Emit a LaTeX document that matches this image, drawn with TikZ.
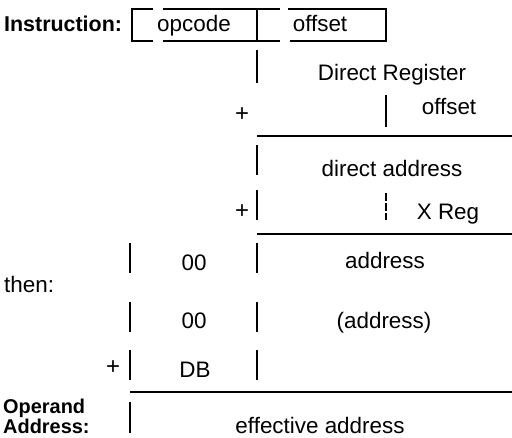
\documentclass[tikz,border=0pt]{standalone}
\usepackage{fontspec}
\setmainfont{Liberation Sans}
\usetikzlibrary{positioning}

\tikzset{
  txt/.style={font=\fontsize{22.5}{24}\selectfont, inner sep=0pt, anchor=base},
  sgn/.style={font=\fontsize{24}{26}\selectfont, inner sep=0pt},
  lbl/.style={font=\bfseries\fontsize{21.5}{22}\selectfont, inner sep=0pt, anchor=base west},
  rule/.style={line width=1.5bp},
}

\begin{document}
\begin{tikzpicture}[x=1bp, y=-1bp]
\useasboundingbox (0,0) rectangle (512,438);

% labels on the left
\node[lbl] (instr) at (4,32) {Instruction:};
\node[txt, anchor=base west] (then) at (4,292) {then:};
\node[lbl, font=\bfseries\fontsize{20}{22}\selectfont] (opnd) at (3,413) {Operand};
\node[lbl, font=\bfseries\fontsize{20}{22}\selectfont] (addr) at (3,433) {Address:};

% instruction box
\draw[rule] (153,9) -- (132,9) -- (132,41) -- (153,41);
\draw[rule] (163,9) -- (280,9) (163,41) -- (280,41);
\draw[rule] (288,9) -- (386,9) -- (386,41) -- (290,41);
\draw[rule] (257,9) -- (257,41);
\node[txt] (opc) at (194,32) {opcode};
\node[txt] (off) at (320,32) {offset};

% direct register + offset
\draw[rule] (257,50) -- (257,83);
\node[txt] (dreg) at (392,81) {Direct Register};
\node[sgn] (pl1) at (242,115) {+};
\draw[rule] (386,95) -- (386,127);
\node[txt] (off2) at (449,115) {offset};
\draw[rule] (257,136) -- (512,136);

% direct address + X
\draw[rule] (257,145) -- (257,175);
\node[txt] (daddr) at (392,177) {direct address};
\node[sgn] (pl2) at (242,212) {+};
\draw[rule] (257,190) -- (257,220);
\draw[rule, dash pattern=on 8bp off 2bp] (386,193) -- (386,220);
\node[txt] (xreg) at (448,220) {X Reg};
\draw[rule] (257,234) -- (512,234);

% bank byte rows
\foreach \ya/\yb in {243/273, 302/332, 350/380} {
  \draw[rule] (130,\ya) -- (130,\yb);
  \draw[rule] (257,\ya) -- (257,\yb);
}
\node[txt] (zz1) at (194,270) {00};
\node[txt] (adr) at (385,268) {address};
\node[txt] (zz2) at (194,328) {00};
\node[txt] (padr) at (384,328) {(address)};
\node[sgn] (pl3) at (113,368) {+};
\node[txt] (db) at (195,377) {DB};
\draw[rule] (130,392) -- (512,392);

% result
\draw[rule] (130,402) -- (130,433);
\node[txt] (eff) at (320,433) {effective address};
\end{tikzpicture}
\end{document}
